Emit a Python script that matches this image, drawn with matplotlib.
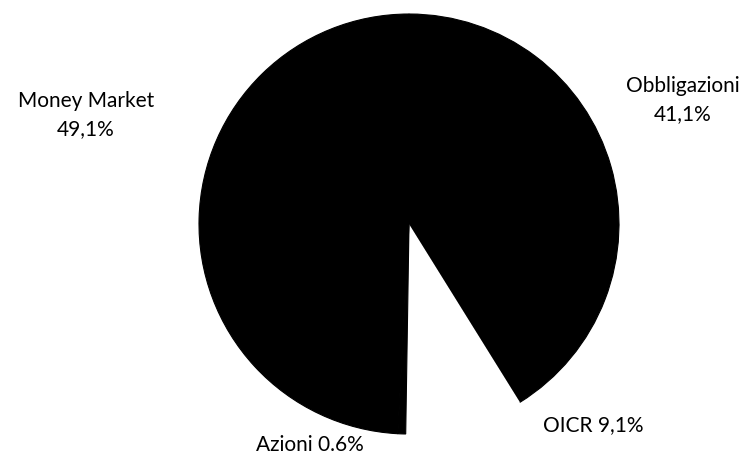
import matplotlib
matplotlib.use('Agg')
import matplotlib.pyplot as plt

# dati allocazione
categorie = ['Obbligazioni', 'OICR', 'Azioni', 'Money Market']
valori = [41.1, 9.1, 0.6, 49.1]
etichette = ['Obbligazioni\n41,1%', 'OICR 9,1%', 'Azioni 0.6%', 'Money Market\n49,1%']
colori = ['black', 'white', 'black', 'black']

plt.rcParams['font.family'] = ['Lato', 'DejaVu Sans']

fig = plt.figure(figsize=(7.47, 4.63), dpi=100)
ax = fig.add_axes([0.2664, 0.0626, 420 / 747, 420 / 463])
wedges, _ = ax.pie(valori, colors=colori, startangle=90, counterclock=False, radius=1,
                   wedgeprops=dict(linewidth=0))
# niente giunture bianche tra le fette nere
for w, c in zip(wedges, colori):
    if c == 'black':
        w.set_edgecolor('black')
        w.set_linewidth(0.8)
ax.set_xlim(-1, 1)
ax.set_ylim(-1, 1)
ax.set_aspect('equal')
ax.axis('off')

# posizione etichette
pos = [(1.305, 0.59), (0.876, -0.957), (-0.471, -1.052), (-1.538, 0.519)]
for testo, (x, y) in zip(etichette, pos):
    ax.text(x, y, testo, ha='center', va='center', fontsize=15, linespacing=1.5,
            color='black', clip_on=False)

fig.savefig('out.png', dpi=100)
